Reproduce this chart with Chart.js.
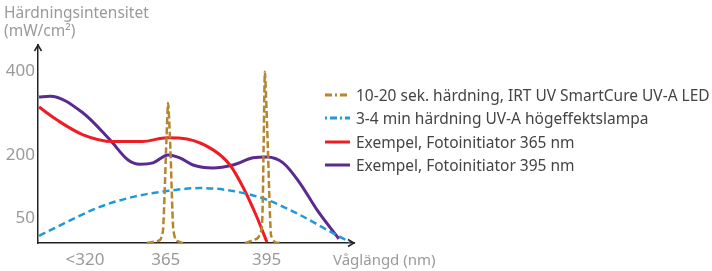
<!DOCTYPE html>
<html>
<head>
<meta charset="utf-8">
<script src="https://cdn.jsdelivr.net/npm/chart.js@4.4.1/dist/chart.umd.min.js"></script>
<style>
  body { margin: 0; background: #fff; font-family: "Noto Sans", sans-serif; }
  #wrap { position: relative; width: 712px; height: 271px; }
  #yTitle { position: absolute; left: 4px; top: 3px; color: #9a9a9a; font-size: 15.5px; line-height: 18px; }
  #xTitle { position: absolute; left: 333px; top: 249px; color: #9a9a9a; font-size: 15px; }
  #legend { position: absolute; left: 325px; top: 83px; }
  .row { display: flex; align-items: center; height: 23.5px; font-size: 15.5px; color: #444; white-space: nowrap; }
  .row svg { margin-right: 6px; }
</style>
</head>
<body>
<div id="wrap">
  <canvas id="chart" width="712" height="271"></canvas>
  <div id="yTitle">Härdningsintensitet<br>(mW/cm²)</div>
  <div id="xTitle">Våglängd (nm)</div>
  <div id="legend"></div>
</div>
<script>
// x values in nm (schematic axis), y values in mW/cm2
const xTickValues = [341, 365, 395];
const xTickLabels = ["<320", "365", "395"];
const yTickValues = [50, 200, 400];

const ledX = [359.4, 363.3, 364.2, 365.1, 365.7, 366.4, 367.2, 368.0, 370.1, 380,
              388.6, 392.4, 393.6, 394.1, 394.5, 395.4, 396.3, 397.5, 399.6];
const ledY = [-10, -3, 21, 212, 324, 212, 26, -3, -10, null,
              -10, 2, 26, 212, 398, 212, 9, -8, -10];

const lampX = [327.3, 335.6, 345.4, 355.3, 365.4, 375.2, 385.0, 395.1, 404.9, 413.0, 419.8];
const lampY = [7, 40, 76, 100, 114, 121, 114, 93, 57, 21, -8];

const pi365X = [327.3, 332.7, 340.4, 349.3, 358, 365.4, 371.3, 379.1, 384.1, 388.0, 392.1, 395.1];
const pi365Y = [314, 283, 248, 232, 232, 241, 238, 212, 176, 123, 52, -8];

const pi395X = [327.3, 330.6, 340.4, 348.4, 353.8, 357.3, 361.2, 365.7, 369.2, 373.1, 379.1,
                385.0, 391.0, 395.1, 399.9, 404.9, 410.0, 416.5];
const pi395Y = [338, 340, 300, 236, 188, 178, 181, 200, 193, 176, 169,
                176, 193, 195, 181, 133, 69, 0];

const seriesNames = [
  "10-20 sek. härdning, IRT UV SmartCure UV-A LED",
  "3-4 min härdning UV-A högeffektslampa",
  "Exempel, Fotoinitiator 365 nm",
  "Exempel, Fotoinitiator 395 nm"
];
const colors = ["#b5862e", "#1f9ad8", "#ee1d24", "#5b2a8e"];

function pts(xs, ys) {
  return xs.map((x, i) => ({ x: x, y: ys[i] }));
}

// arrow heads on both axes
const arrows = {
  id: "arrows",
  afterDraw(chart) {
    const { ctx, chartArea: a } = chart;
    ctx.save();
    ctx.strokeStyle = "#222";
    ctx.lineWidth = 1.5;
    ctx.beginPath();
    ctx.moveTo(a.left - 3.5, a.top + 6);
    ctx.lineTo(a.left, a.top);
    ctx.lineTo(a.left + 3.5, a.top + 6);
    ctx.moveTo(a.right - 6, a.bottom - 3.5);
    ctx.lineTo(a.right, a.bottom);
    ctx.lineTo(a.right - 6, a.bottom + 3.5);
    ctx.stroke();
    ctx.restore();
  }
};

new Chart(document.getElementById("chart"), {
  type: "line",
  data: {
    datasets: [
      {
        label: seriesNames[0],
        data: pts(ledX, ledY),
        borderColor: colors[0],
        borderWidth: 2.5,
        borderDash: [7, 3],
        tension: 0.2,
        spanGaps: false
      },
      {
        label: seriesNames[1],
        data: pts(lampX, lampY),
        borderColor: colors[1],
        borderWidth: 2.5,
        borderDash: [7, 4],
        cubicInterpolationMode: "monotone"
      },
      {
        label: seriesNames[2],
        data: pts(pi365X, pi365Y),
        borderColor: colors[2],
        borderWidth: 3,
        cubicInterpolationMode: "monotone"
      },
      {
        label: seriesNames[3],
        data: pts(pi395X, pi395Y),
        borderColor: colors[3],
        borderWidth: 3,
        cubicInterpolationMode: "monotone"
      }
    ]
  },
  options: {
    responsive: false,
    animation: false,
    clip: false,
    layout: { padding: { left: 0, top: 45, right: 358, bottom: 0 } },
    elements: { point: { radius: 0 } },
    plugins: { legend: { display: false }, tooltip: { enabled: false } },
    scales: {
      x: {
        type: "linear",
        min: 327,
        max: 421,
        grid: { display: false, drawTicks: false },
        border: { color: "#222", width: 1.5 },
        afterBuildTicks: (s) => { s.ticks = xTickValues.map(v => ({ value: v })); },
        afterFit: (s) => { s.height = 28; },
        ticks: {
          padding: 7,
          color: "#9a9a9a",
          font: { family: "Noto Sans", size: 17 },
          callback: (v) => xTickLabels[xTickValues.indexOf(v)]
        }
      },
      y: {
        min: -10,
        max: 462,
        grid: { display: false, drawTicks: false },
        border: { color: "#222", width: 1.5 },
        afterBuildTicks: (s) => { s.ticks = yTickValues.map(v => ({ value: v })); },
        afterFit: (s) => { s.width = 38; },
        ticks: {
          padding: 3,
          color: "#9a9a9a",
          font: { family: "Noto Sans", size: 17 }
        }
      }
    }
  },
  plugins: [arrows]
});

// legend
const dashes = ["7,3,2,3", "2,3,7,3", "", ""];
const legend = document.getElementById("legend");
seriesNames.forEach((name, i) => {
  const row = document.createElement("div");
  row.className = "row";
  row.innerHTML =
    '<svg width="25" height="6"><line x1="0" y1="3" x2="25" y2="3" stroke="' + colors[i] +
    '" stroke-width="3"' + (dashes[i] ? ' stroke-dasharray="' + dashes[i] + '"' : "") + '/></svg>' +
    '<span>' + name + '</span>';
  legend.appendChild(row);
});
</script>
</body>
</html>
